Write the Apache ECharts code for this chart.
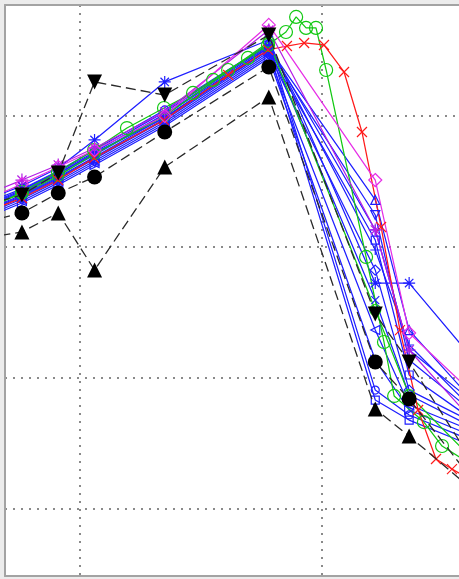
<!DOCTYPE html>
<html>
<head>
<meta charset="utf-8">
<script src="https://cdn.jsdelivr.net/npm/echarts@6/dist/echarts.min.js"></script>
<style>
  html, body { margin: 0; padding: 0; background: #ececec; }
  #chart { width: 459px; height: 579px; }
</style>
</head>
<body>
<div id="chart"></div>
<script>
// Shared sample positions for most curves
const xMain = [6.1, 7.6, 9.1, 10.6, 13.5, 17.8, 22.2, 23.6, 27.36];

// Blue curves
const blueStarHigh = [-6.41, -5.34, -3.97, -1.83, 2.60, 5.80, -12.75, -12.75, -20.99];
const bluePlusA    = [-6.79, -5.65, -4.27, -2.75, 0.31, 5.42, -10.23, -17.48, -24.50];
const blueTriUp    = [-7.02, -5.88, -4.50, -2.98, 0.08, 5.19, -6.41, -16.34, -24.05];
const blueTriDown  = [-7.18, -6.03, -4.66, -3.13, -0.08, 5.04, -7.56, -18.63, -24.27];
const blueSquare   = [-7.33, -6.18, -4.81, -3.28, -0.31, 4.89, -9.47, -19.77, -24.66];
const blueDiamond  = [-7.48, -6.34, -4.96, -3.44, -0.46, 4.73, -11.76, -20.92, -24.43];
const blueCross    = [-6.95, -5.80, -4.43, -2.82, -0.15, 5.27, -14.05, -21.30, -24.81];
const blueTriLeft  = [-7.63, -6.49, -5.11, -3.59, -0.61, 4.58, -16.34, -22.06, -24.89];
const blueTriRight = [-7.79, -6.64, -5.27, -3.74, -0.76, 4.43, -18.63, -22.44, -25.27];
const blueCircle   = [-6.64, -5.57, -4.20, -2.60, 0.46, 5.50, -20.92, -22.82, -25.65];
const blueSquareB  = [-7.25, -6.11, -4.73, -3.21, -0.23, 5.04, -21.68, -23.21, -26.03];
const bluePlusB    = [-6.87, -5.73, -4.35, -2.90, 0.15, 5.34, -8.70, -17.86, -23.51];

// Green, purple and magenta curves on the shared positions
const greenB         = [-6.95, -5.95, -4.58, -2.90, 0.00, 5.65, -14.81, -21.30, -28.32];
const purpleStar     = [-6.03, -4.89, -3.74, -2.44, 0.31, 6.56, -8.70, -17.86, -25.57];
const magentaDiamond = [-6.41, -5.19, -3.89, -2.60, 0.00, 6.95, -4.89, -16.56, -23.13];

// Densely sampled red curve
const redX = [6.12, 7.60, 9.09, 10.58, 13.47, 16.12, 17.77, 18.55, 19.26, 20.08, 20.91, 21.65, 22.44, 23.22, 23.97, 24.71, 25.37, 26.53];
const redY = [-7.33, -6.26, -4.89, -3.21, -0.31, 3.13, 5.04, 5.34, 5.57, 5.42, 3.36, -1.22, -8.47, -16.34, -22.44, -26.18, -26.95, -28.17];

// Densely sampled green curve
const greenX = [6.12, 7.60, 9.09, 10.58, 11.94, 13.47, 14.67, 15.50, 16.12, 16.94, 17.77, 18.51, 18.93, 19.34, 19.75, 20.17, 21.82, 22.56, 22.98, 24.21, 24.96, 26.53];
const greenY = [-7.18, -5.80, -4.27, -2.60, -0.92, 0.61, 1.76, 2.75, 3.51, 4.43, 5.42, 6.41, 7.56, 6.72, 6.72, 3.51, -10.76, -17.25, -21.37, -23.36, -25.19, -27.02];

// Black dashed reference curves
const blackTriDown = [-6.79, -6.03, -4.35, 2.60, 1.60, 6.18, -15.11, -18.78, -29.69];
const blackCircle  = [-8.09, -7.40, -5.88, -4.66, -1.22, 3.74, -18.78, -21.60, -30.46];
const blackTriUp   = [-9.31, -8.85, -7.40, -11.76, -3.89, 1.45, -22.37, -24.43, -30.31];

// Visible axis window
const xRange = [6.9, 25.66];
const yRange = [-35.11, 8.47];

const STAR  = 'path://M5,0L5,10M0,5L10,5M1.5,1.5L8.5,8.5M8.5,1.5L1.5,8.5';
const PLUS  = 'path://M5,0L5,10M0,5L10,5';
const CROSS = 'path://M0,0L10,10M10,0L0,10';

const BLUE = '#1e1eff', GREEN = '#12c912', RED = '#ff1a1a', PURPLE = '#b41ee6', MAGENTA = '#e62ee6';
const FRAME = '#a3a3a3';

function pairs(xs, ys) { return xs.map((x, i) => [x, ys[i]]); }

function hollow(name, xs, ys, color, symbol, size, rotate) {
  return {
    name, type: 'line', data: pairs(xs, ys),
    symbol, symbolSize: size, symbolRotate: rotate || 0,
    lineStyle: { color, width: 1.25 },
    itemStyle: { color: 'rgba(0,0,0,0)', borderColor: color, borderWidth: 1.2 },
    color, clip: true, silent: true
  };
}

function black(name, ys, symbol, rotate) {
  return {
    name, type: 'line', data: pairs(xMain, ys),
    symbol, symbolSize: 15, symbolRotate: rotate || 0,
    lineStyle: { color: '#2a2a2a', width: 1.3, type: [10, 5] },
    itemStyle: { color: '#000', borderWidth: 0 },
    color: '#000', clip: true, silent: true, z: 5
  };
}

const series = [
  hollow('b1', xMain, blueStarHigh, BLUE, STAR, 12),
  hollow('b2', xMain, bluePlusA, BLUE, PLUS, 10),
  hollow('b3', xMain, blueTriUp, BLUE, 'triangle', 9),
  hollow('b4', xMain, blueTriDown, BLUE, 'triangle', 9, 180),
  hollow('b5', xMain, blueSquare, BLUE, 'rect', 8),
  hollow('b6', xMain, blueDiamond, BLUE, 'diamond', 10),
  hollow('b7', xMain, blueCross, BLUE, CROSS, 8),
  hollow('b8', xMain, blueTriLeft, BLUE, 'triangle', 9, 90),
  hollow('b9', xMain, blueTriRight, BLUE, 'triangle', 9, -90),
  hollow('b10', xMain, blueCircle, BLUE, 'circle', 8),
  hollow('b11', xMain, blueSquareB, BLUE, 'rect', 8),
  hollow('b12', xMain, bluePlusB, BLUE, PLUS, 10),
  hollow('g2', xMain, greenB, GREEN, 'circle', 11),
  hollow('g1', greenX, greenY, GREEN, 'circle', 13),
  hollow('r1', redX, redY, RED, CROSS, 10),
  hollow('p1', xMain, purpleStar, PURPLE, STAR, 13),
  hollow('m1', xMain, magentaDiamond, MAGENTA, 'diamond', 13),
  black('k1', blackTriDown, 'triangle', 180),
  black('k2', blackCircle, 'circle'),
  black('k3', blackTriUp, 'triangle')
];

const dotted = { color: '#8a8a8a', width: 2, type: [2, 6] };
const frameLine = { show: true, onZero: false, lineStyle: { color: FRAME, width: 2 } };

const chart = echarts.init(document.getElementById('chart'), null, { renderer: 'canvas' });
chart.setOption({
  animation: false,
  backgroundColor: '#ececec',
  grid: {
    left: 5, top: 5, right: 0, bottom: 3,
    show: true, backgroundColor: '#ffffff', borderWidth: 0
  },
  xAxis: [
    {
      type: 'value', min: xRange[0], max: xRange[1], position: 'bottom',
      minInterval: 10, maxInterval: 10,
      axisLine: frameLine, axisTick: { show: false }, axisLabel: { show: false },
      splitLine: { show: true, showMinLine: false, showMaxLine: false, lineStyle: dotted }
    },
    {
      type: 'value', min: xRange[0], max: xRange[1], position: 'top',
      axisLine: frameLine, axisTick: { show: false }, axisLabel: { show: false },
      splitLine: { show: false }
    }
  ],
  yAxis: {
    type: 'value', min: yRange[0], max: yRange[1], position: 'left',
    minInterval: 10, maxInterval: 10,
    axisLine: frameLine, axisTick: { show: false }, axisLabel: { show: false },
    splitLine: { show: true, showMinLine: false, showMaxLine: false, lineStyle: dotted }
  },
  series
});
</script>
</body>
</html>
